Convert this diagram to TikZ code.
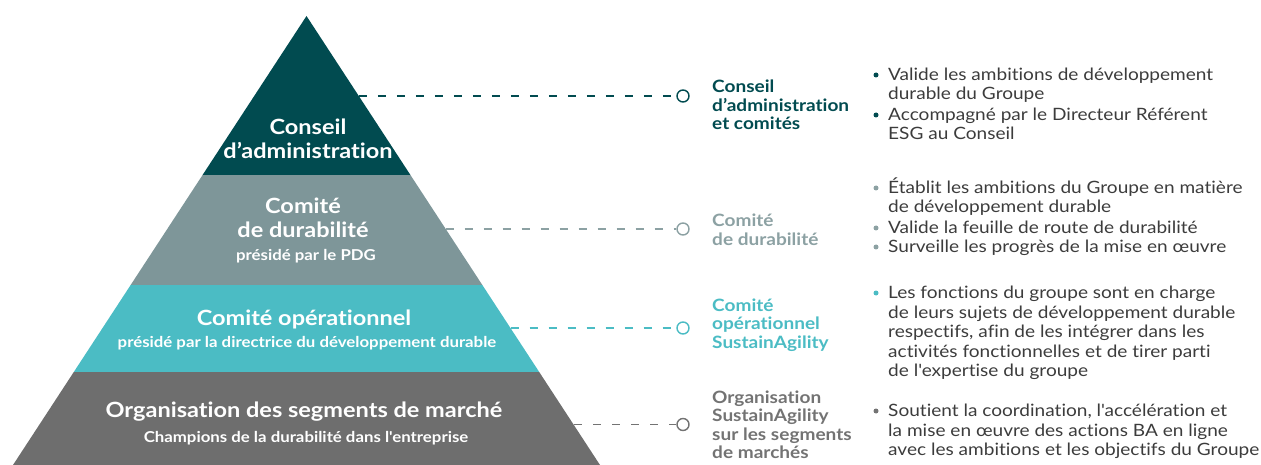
\documentclass[tikz,border=0pt]{standalone}
\usepackage{fontspec}
\setmainfont{Lato}[FakeStretch=1.12,Ligatures=NoCommon]
\definecolor{cDark}{HTML}{014B50}
\definecolor{cGrey}{HTML}{7E9699}
\definecolor{cGreyL}{HTML}{8CA1A3}
\definecolor{cTeal}{HTML}{4BBCC4}
\definecolor{cBase}{HTML}{6E6E6E}
\definecolor{cBaseL}{HTML}{737373}
\definecolor{cText}{HTML}{3C3C3C}
\begin{document}
\begin{tikzpicture}[x=1pt,y=-1pt,
  ptitle/.style={text=white,font=\fontsize{21}{24}\selectfont\bfseries,align=center,inner sep=0pt,anchor=base},
  psub/.style={text=white,font=\fontsize{15}{17}\selectfont\bfseries,align=center,inner sep=0pt,anchor=base},
  lab/.style={text=#1,font=\fontsize{17}{18.5}\selectfont\bfseries,align=left,inner sep=0pt,anchor=base west},
  item/.style={text=cText,font=\fontsize{17}{19.5}\selectfont,align=left,inner sep=0pt,anchor=base west},
  ring/.style={circle,draw=#1,line width=1.4pt,minimum size=12pt,inner sep=0pt},
  dot/.style={circle,fill=#1,minimum size=5pt,inner sep=0pt},
  conn/.style={draw=#1,line width=1.4pt,dash pattern=on 8pt off 11pt}]
\useasboundingbox (0,0) rectangle (1261,465);
% pyramid
\begin{scope}
\clip (306.5,16) -- (600,465) -- (13,465) -- cycle;
\fill[cDark] (0,0) rectangle (620,175);
\fill[cGrey] (0,175) rectangle (620,284.5);
\fill[cTeal] (0,284.5) rectangle (620,372.3);
\fill[cBase] (0,372.3) rectangle (620,470);
\end{scope}
% pyramid texts (base anchor = last line baseline)
\node[ptitle] (t1) at (308,159) {Conseil\\d’administration};
\node[ptitle] (t2) at (303,237) {Comité\\de durabilité};
\node[psub] (s2) at (306,260) {présidé par le PDG};
\node[ptitle] (t3) at (304,325) {Comité opérationnel};
\node[psub] (s3) at (307,347) {présidé par la directrice du développement durable};
\node[ptitle] (t4) at (304,417) {Organisation des segments de marché};
\node[psub] (s4) at (306,442) {Champions de la durabilité dans l\textquotesingle entreprise};
% edge points
\coordinate (e1) at (358.8,96);
\coordinate (e2) at (445.7,229);
\coordinate (e3) at (510.5,328);
\coordinate (e4) at (574,424.5);
% rings
\node[ring=cDark] (c1) at (683,96) {};
\node[ring=cGreyL] (c2) at (683,229) {};
\node[ring=cTeal] (c3) at (683,328) {};
\node[ring=cBaseL] (c4) at (683,424.5) {};
\draw[conn=cDark] (e1) -- (c1.west);
\draw[conn=cGreyL] (e2) -- (c2.west);
\draw[conn=cTeal] (e3) -- (c3.west);
\draw[conn=cBaseL] (e4) -- (c4.west);
% labels
\node[lab=cDark] (l1) at (712,130) {Conseil\\d’administration\\et comités};
\node[lab=cGreyL] (l2) at (712,245.5) {Comité\\de durabilité};
\node[lab=cTeal] (l3) at (712,348) {Comité\\opérationnel\\SustainAgility};
\node[lab=cBaseL] (l4) at (712,458.5) {Organisation\\SustainAgility\\sur les segments\\de marchés};
% bullets
\node[dot=cDark] (d11) at (876,75) {};
\node[item] (i11) at (888,100) {Valide les ambitions de développement\\durable du Groupe};
\node[dot=cDark] (d12) at (876,115) {};
\node[item] (i12) at (888,140) {Accompagné par le Directeur Référent\\ESG au Conseil};
\node[dot=cGreyL] (d21) at (876,188) {};
\node[item] (i21) at (888,213) {Établit les ambitions du Groupe en matière\\de développement durable};
\node[dot=cGreyL] (d22) at (876,228) {};
\node[item] (i22) at (888,233.5) {Valide la feuille de route de durabilité};
\node[dot=cGreyL] (d23) at (876,247) {};
\node[item] (i23) at (888,252.5) {Surveille les progrès de la mise en œuvre};
\node[dot=cTeal] (d31) at (876,293) {};
\node[item] (i31) at (888,376.5) {Les fonctions du groupe sont en charge\\de leurs sujets de développement durable\\respectifs, afin de les intégrer dans les\\activités fonctionnelles et de tirer parti\\de l\textquotesingle expertise du groupe};
\node[dot=cBaseL] (d41) at (876,411) {};
\node[item] (i41) at (888,455.5) {Soutient la coordination, l\textquotesingle accélération et\\la mise en œuvre des actions BA en ligne\\avec les ambitions et les objectifs du Groupe};
\end{tikzpicture}
\end{document}
